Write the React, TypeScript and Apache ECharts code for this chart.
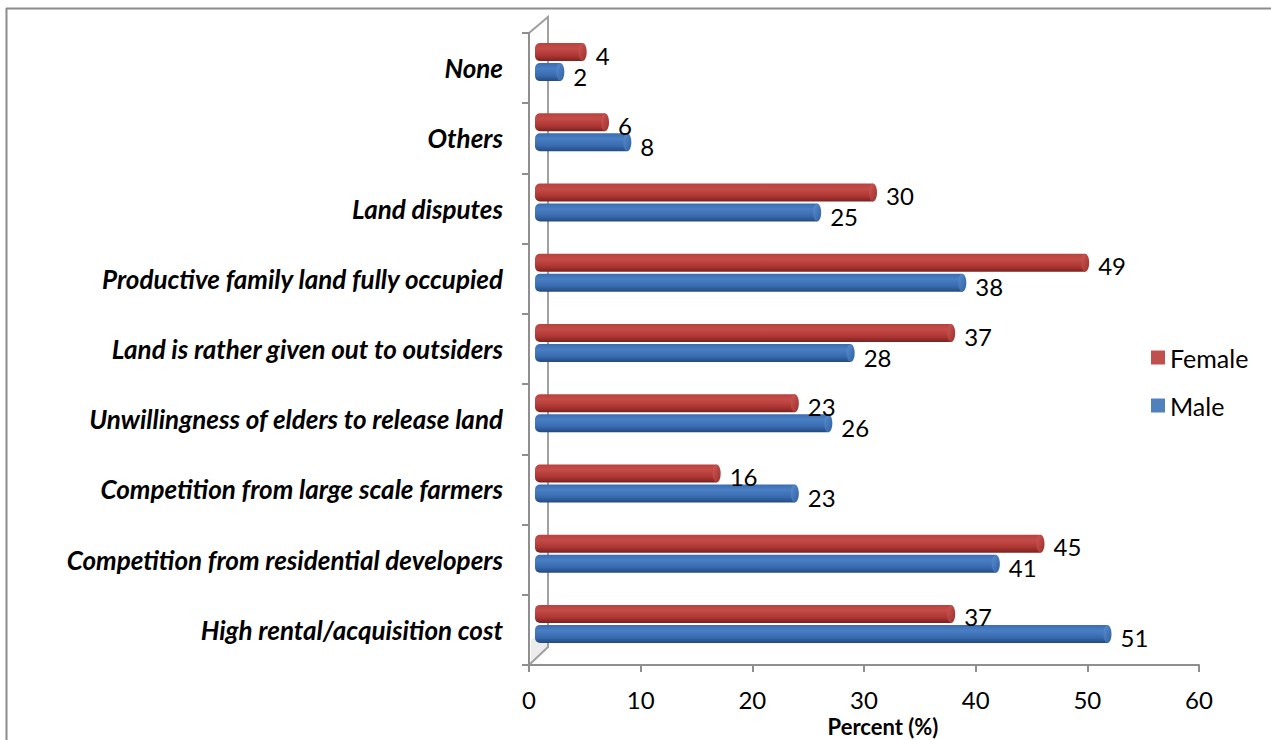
import React, { useEffect, useRef } from "react";
import * as echarts from "echarts";

const categories = [
  "High rental/acquisition cost",
  "Competition from residential developers",
  "Competition from large scale farmers",
  "Unwillingness of elders to release land",
  "Land is rather given out to outsiders",
  "Productive family land fully occupied",
  "Land disputes",
  "Others",
  "None",
];
const femaleValues = [37, 45, 16, 23, 37, 49, 30, 6, 4];
const maleValues = [51, 41, 23, 26, 28, 38, 25, 8, 2];
const xTicks = { min: 0, max: 60, interval: 10 };

const FONT = "Lato, 'Open Sans', sans-serif";
const AXIS_GRAY = "#8f8f8f";

const redGrad = () =>
  new echarts.graphic.LinearGradient(0, 0, 0, 1, [
    { offset: 0, color: "#b9423f" },
    { offset: 0.3, color: "#c44c48" },
    { offset: 0.7, color: "#ad3633" },
    { offset: 1, color: "#7a2220" },
  ]);
const redCap = () =>
  new echarts.graphic.LinearGradient(0, 0, 1, 1, [
    { offset: 0, color: "#cf5a56" },
    { offset: 1, color: "#9a2e2b" },
  ]);
const blueGrad = () =>
  new echarts.graphic.LinearGradient(0, 0, 0, 1, [
    { offset: 0, color: "#3a6cb0" },
    { offset: 0.3, color: "#4a7fc4" },
    { offset: 0.7, color: "#386aae" },
    { offset: 1, color: "#234a80" },
  ]);
const blueCap = () =>
  new echarts.graphic.LinearGradient(0, 0, 1, 1, [
    { offset: 0, color: "#5a8fd2" },
    { offset: 1, color: "#2f5f9f" },
  ]);

const makeRender =
  (dy: number, grad: any, cap: any, labelDy: number) =>
  (params: any, api: any) => {
    const v = api.value(0);
    const idx = api.value(1);
    const p0 = api.coord([0, idx]);
    const p1 = api.coord([v, idx]);
    const h = 18;
    const cy = p0[1] + dy;
    const x0 = p0[0] + 6;
    const x1 = p1[0] + 9;
    return {
      type: "group",
      children: [
        {
          type: "rect",
          shape: { x: x0, y: cy - h / 2, width: x1 - x0, height: h, r: [5, 0, 0, 5] },
          style: { fill: grad },
        },
        {
          type: "ellipse",
          shape: { cx: x1, cy, rx: 4, ry: h / 2 },
          style: { fill: cap },
        },
        {
          type: "text",
          style: {
            text: String(v),
            x: x1 + 13,
            y: cy + labelDy,
            fontSize: 24,
            fontFamily: FONT,
            fill: "#000",
            verticalAlign: "middle",
            align: "left",
          },
        },
      ],
    };
  };

export default function App() {
  const ref = useRef<HTMLDivElement>(null);
  useEffect(() => {
    document.body.style.margin = "0";
    if (!ref.current) return;
    const chart = echarts.init(ref.current, undefined, { renderer: "svg" });
    const rg = redGrad();
    const bg = blueGrad();
    chart.setOption({
      animation: false,
      backgroundColor: "#fff",
      grid: { left: 529, right: 72, top: 33, bottom: 75, outerBoundsMode: "none", containLabel: false },
      legend: {
        orient: "vertical",
        left: 1146,
        top: 340,
        itemWidth: 14,
        itemHeight: 14,
        itemGap: 23,
        itemTextGap: 8,
        icon: "rect",
        data: ["Female", "Male"],
        textStyle: { fontSize: 25, fontFamily: FONT, color: "#000", lineHeight: 25 },
      },
      xAxis: {
        type: "value",
        min: xTicks.min,
        max: xTicks.max,
        interval: xTicks.interval,
        name: "Percent (%)",
        nameLocation: "middle",
        nameGap: 48,
        nameTextStyle: {
          fontSize: 22,
          lineHeight: 22,
          fontWeight: "bold",
          fontFamily: FONT,
          color: "#000",
          padding: [0, 0, 0, 38],
        },
        axisLine: { show: true, lineStyle: { color: AXIS_GRAY, width: 2 } },
        axisTick: { show: true, length: 7, lineStyle: { color: AXIS_GRAY, width: 2 } },
        axisLabel: { fontSize: 24, fontFamily: FONT, color: "#000", margin: 22 },
        splitLine: { show: false },
      },
      yAxis: {
        type: "category",
        data: categories,
        axisLine: { show: true, lineStyle: { color: AXIS_GRAY, width: 2 } },
        axisTick: { show: true, length: 7, lineStyle: { color: AXIS_GRAY, width: 2 } },
        axisLabel: {
          fontSize: 26,
          fontFamily: FONT,
          fontStyle: "italic",
          fontWeight: "bold",
          color: "#000",
          margin: 26,
        },
      },
      graphic: [
        { type: "line", shape: { x1: 6, y1: 8.5, x2: 1271, y2: 8.5 }, style: { stroke: "#8c8c8c", lineWidth: 2 } },
        { type: "line", shape: { x1: 6.5, y1: 8, x2: 6.5, y2: 740 }, style: { stroke: "#8c8c8c", lineWidth: 2 } },
        {
          type: "polygon",
          shape: { points: [[531, 662], [547, 648], [547, 626], [531, 640]] },
          style: { fill: "#ececec" },
          z: -1,
        },
        {
          type: "polyline",
          shape: { points: [[529, 33], [548, 17], [548, 647], [529, 665]] },
          style: { stroke: "#a0a0a0", lineWidth: 2, fill: "none" },
        },
      ],
      series: [
        {
          name: "Female",
          type: "custom",
          encode: { x: 0, y: 1 },
          itemStyle: { color: "#c0504d" },
          renderItem: makeRender(-16, rg, redCap(), 3),
          data: femaleValues.map((v, i) => [v, i]),
          z: 3,
        },
        {
          name: "Male",
          type: "custom",
          encode: { x: 0, y: 1 },
          itemStyle: { color: "#4f81bd" },
          renderItem: makeRender(4, bg, blueCap(), 4),
          data: maleValues.map((v, i) => [v, i]),
          z: 2,
        },
      ],
    });
    return () => chart.dispose();
  }, []);
  return <div ref={ref} style={{ width: 1271, height: 740 }} />;
}
